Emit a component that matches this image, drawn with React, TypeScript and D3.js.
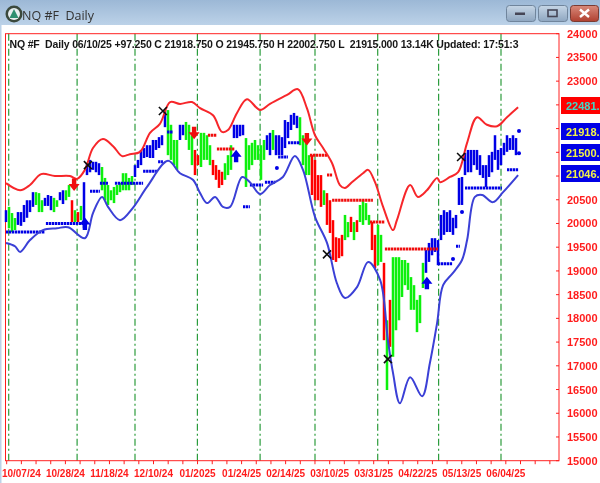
import React from "react";
import * as d3 from "d3";

const W = 600, H = 483;
const barHigh = [20280,20350,20220,20115,20240,20240,20390,20490,20490,20660,
20660,20640,20490,20540,20600,20580,20540,20490,20660,20700,
20700,20810,20490,20280,20240,20370,20870,21270,21340,21300,
21300,21270,21190,20960,20810,20700,20770,20810,20850,21060,
21060,20960,21000,21230,21340,21550,21590,21650,21650,21760,
21760,21820,21860,22390,22390,22080,21760,21760,22080,22080,
22140,22080,21860,21550,21440,21910,21910,21860,21650,21340,
21230,21130,21090,21270,21440,21650,22080,22080,22080,22080,
21800,21650,21700,21760,21650,21650,21760,21860,21910,21970,
21860,21860,21820,22180,22140,22290,22330,22270,22240,21860,
21760,21440,21440,21340,21020,21020,20700,20640,20490,20070,
19710,19690,19760,20180,20030,20140,20030,20070,20390,20490,
20430,20180,20030,19760,19970,19760,19170,17960,18390,19290,
19290,19290,19230,19230,19170,18870,18700,18390,18490,19170,
19440,19590,19690,19690,19650,20180,20280,20240,20280,20120,
20180,20960,20980,21490,21550,21550,21550,21550,21440,21230,
21230,21440,21510,21860,21550,21590,21700,21860,21800,21860,21800];
const barLow = [20030,19900,19820,19860,19970,19950,20030,20120,20240,20350,
20390,20240,20240,20370,20370,20280,20240,20350,20490,20410,
20490,20560,20030,20030,20030,20070,19900,21020,21080,21130,
21080,21020,20700,20490,20390,20490,20430,20600,20660,20700,
20700,20700,20810,20980,21170,21230,21380,21400,21380,21380,
21550,21590,21650,22030,21440,21340,21230,21130,21760,21860,
21760,21550,21230,21020,21230,21190,21340,21340,21230,21020,
20920,20750,20810,20920,21020,21130,21800,21800,21840,21860,
20770,21130,21230,21340,21340,20920,21340,21550,21440,21550,
21440,21440,21440,21590,21800,21970,22080,22010,21650,21230,
21020,21020,20600,20490,20490,20350,20390,19970,19800,19230,
19190,19270,19310,19650,19710,19820,19650,19820,20030,19970,
20070,19970,19440,19060,19120,19190,17540,16490,17400,17190,
17750,17960,18450,18700,18600,18180,18180,17710,17900,18640,
18960,19190,19330,19400,19120,19650,19760,19820,19820,19760,
19900,20390,20390,21020,21080,21080,21230,21130,21020,20960,
20770,20980,21080,21340,21130,21230,21440,21510,21550,21550,21440];
const barColorCodes =
  "bgggbbbbbb" + "gggbbbggbb" + "ggrgrgbbbb" + "bbgggggggg" + "gggbbbbbbb" +
  "bbbbggggbb" + "gggrrggggr" + "rrrgggbbbb" + "gggggggbbg" + "bbbbbbbbgg" +
  "ggrrrrgrrr" + "rrrggrgrgg" + "ggrrggrgrg" + "gggggggggg" + "bbbbbbbbbb" +
  "bbbbbbbbbb" + "bbbbbbbbbbb";

const upperIdx = [0,4.7,8,11.7,16.3,21.3,23.7,26.3,29,32.3,35.7,38.7,41.3,44.7,48,51.3,54.7,58,62,64.7,69,72,74,77,80.3,84.7,88,93.7,97.3,100.3,103,105.7,108.7,111.3,113,115.3,119,120.7,123,125.7,129,130.3,134.7,137.3,140.3,143.7,144.7,148,150.7,153.7,157,160.3,163.7,167,170.7];
const upperVal = [20850,20700,20810,21040,21000,21000,20940,21130,21590,21780,21630,21420,21460,21510,21910,22100,22560,22520,22560,22430,22280,21930,21970,22330,22620,22390,22520,22710,22830,22430,21860,21590,21270,20810,20750,20870,21060,21130,20870,20350,19860,20070,20810,20560,20700,20960,20870,20980,21080,21700,22240,22080,22050,22240,22450];
const lowerIdx = [0,3,4.7,8,12.3,17,20.7,26.3,29,32,34,38,42.3,47,54,58,62.3,64.7,67,69.7,72.3,74.7,78.7,81.3,84.7,88,92.3,96.3,99,103,107,110.3,113,117,120.7,124.7,127.3,129,131.3,134.7,138.7,141.3,143.7,145.7,149,152,153.7,156.3,158.7,162.3,165.7,170.7];
const lowerVal = [19590,19520,19400,19650,19860,19900,19920,19690,20220,20560,20350,20070,20330,20770,21320,21060,20920,20640,20430,20560,20350,20350,20980,20870,20620,20810,20980,21420,21130,20140,19590,18740,18430,18660,19190,18810,17540,16850,16210,16760,16360,17060,17900,18700,18960,19230,19650,20560,20600,20450,20660,21020];

const blueLevelStart = [0,13.3,28,31.3,36.3,45.7,50.7,53.7,79,81.3,86.3,90.3,90.7,94,144,149,150,152,153,167,171,171];
const blueLevelEnd = [13,25.7,31.3,34,45.7,50.3,52.3,55.7,81.3,85.7,89.7,90.3,94,98,148.7,149,151.3,152,165.3,170.7,171,171];
const blueLevelVal = [19820,20000,20680,20850,20850,21100,21300,21930,20350,20810,20870,21170,21400,21700,19150,19250,19520,20240,20750,21130,21480,21950];
const redLevelStart = [67.3,70.3,101.3,107,108.7,121.3,126.3];
const redLevelEnd = [70.3,76.3,107,108.7,122.3,126.3,144];
const redLevelVal = [21860,21570,21440,21020,20490,20030,19460];

const crossIdx = [27.3,52.3,107,127.3,151.7];
const crossVal = [21230,22370,19350,17140,21400];
const downArrowIdx = [22.7,62.7,100.3];
const downArrowVal = [20810,21900,21770];
const upArrowIdx = [26.3,76.7,140.3];
const upArrowVal = [20000,21430,18750];

const monthLineIdx = [0.9,23.7,43,63.8,84.7,103,123.9,144.2,165];
const yTicks = d3.range(15000, 24001, 500);
const yTicksCovered = [21000,21500,22000,22500];
const xTickLabels = ["10/07/24","10/28/24","11/18/24","12/10/24","01/2025","01/24/25","02/14/25","03/10/25","03/31/25","04/22/25","05/13/25","06/04/25"];
const xTickCount = 38;
const tagValues = ["22481.7","21918.7","21500.2","21046.4"];
const tagTops = [97,123,144,165];

const chartTitle = "NQ #F  Daily 06/10/25 +97.250 C 21918.750 O 21945.750 H 22002.750 L  21915.000 13.14K Updated: 17:51:3";
const windowTitle = "NQ #F  Daily";

const FONT = "'Liberation Sans', Arial, sans-serif";
const RED = "#ff1e1e", BLUE = "#0000e6", GREEN = "#0cf00c", BAND_BLUE = "#3a3fd6", BAND_RED = "#f7272b", VLINE = "#2c9c3c";
const colorOf: Record<string, string> = { b: BLUE, g: GREEN, r: "#ff0000" };

export default function App() {
  const left = 5.5, right = 559, top = 33.7, bottom = 460.7;
  const y = d3.scaleLinear().domain([15000, 24000]).range([bottom, top]);
  const x = d3.scaleLinear().domain([0, 170]).range([6, 516]);
  const tickX = d3.scaleLinear().domain([0, 1]).range([6.7, 21.38]);
  const line = d3.line<[number, number]>().x(d => x(d[0])).y(d => y(d[1])).curve(d3.curveCatmullRom.alpha(0.5));
  const upper = line(upperIdx.map((v, i) => [v, upperVal[i]] as [number, number])) as string;
  const lower = line(lowerIdx.map((v, i) => [v, lowerVal[i]] as [number, number])) as string;
  const bars = barHigh.map((h, i) => ({ i, h, l: barLow[i], c: colorOf[barColorCodes[i]] }));
  const arrow = "M-2.2,-6.5H2.2V-1H5.5L0,6L-5.5,-1H-2.2Z";

  const levels = (starts: number[], ends: number[], vals: number[], col: string) =>
    starts.map((s, i) =>
      s === ends[i] ? (
        <circle key={col + i} cx={x(s)} cy={y(vals[i])} r={2} fill={col} />
      ) : (
        <line key={col + i} x1={x(s)} x2={x(ends[i])} y1={y(vals[i])} y2={y(vals[i])} stroke={col} strokeWidth={3} strokeDasharray="2.4 0.6" />
      )
    );

  return (
    <svg width={W} height={H} viewBox={`0 0 ${W} ${H}`} style={{ position: "fixed", left: 0, top: 0, background: "#fff" }} fontFamily={FONT}>
      <defs>
        <linearGradient id="bar" x1="0" x2="0" y1="0" y2="1">
          <stop offset="0" stopColor="#9cb8d6" />
          <stop offset="1" stopColor="#bcd2e8" />
        </linearGradient>
        <linearGradient id="btn" x1="0" x2="0" y1="0" y2="1">
          <stop offset="0" stopColor="#c6d6e6" />
          <stop offset="1" stopColor="#8ea6c0" />
        </linearGradient>
        <linearGradient id="cls" x1="0" x2="0" y1="0" y2="1">
          <stop offset="0" stopColor="#d98a7a" />
          <stop offset="1" stopColor="#b04030" />
        </linearGradient>
        <filter id="soft" x="-2%" y="-2%" width="104%" height="104%">
          <feGaussianBlur stdDeviation="0.45" />
        </filter>
      </defs>
      <g filter="url(#soft)">
        <rect x={0} y={0} width={W} height={25} fill="url(#bar)" />
        <rect x={0} y={25} width={1.5} height={H - 25} fill="#bcd2e8" />
        <circle cx={14} cy={14} r={8.5} fill="#3b4a3c" />
        <circle cx={14} cy={14} r={6} fill="#e8eef0" />
        <path d="M14,9 L18.5,18 H9.5 Z" fill="#2f8f6f" />
        <text x={22} y={19.5} fontSize={12.5} fill="#333" fontFamily="'Open Sans', sans-serif" xmlSpace="preserve">{windowTitle}</text>
        <rect x={506.5} y={5.5} width={29} height={16} rx={3} fill="url(#btn)" stroke="#6f859c" />
        <rect x={515} y={12.5} width={10} height={2.5} fill="#445" />
        <rect x={538.5} y={5.5} width={29} height={16} rx={3} fill="url(#btn)" stroke="#6f859c" />
        <rect x={548} y={10} width={9} height={6.5} fill="none" stroke="#445" strokeWidth={1.6} />
        <rect x={570.5} y={5.5} width={28} height={16} rx={3} fill="url(#cls)" stroke="#7a3a30" />
        <path d="M580,9.5L589,17M589,9.5L580,17" stroke="#fff" strokeWidth={2.4} />

        {monthLineIdx.map((m, i) => (
          <line key={i} x1={x(m)} x2={x(m)} y1={top} y2={bottom} stroke={VLINE} strokeWidth={1.2} strokeDasharray="7 3 2 3" />
        ))}

        <rect x={left} y={top} width={right - left} height={bottom - top} fill="none" stroke={RED} strokeWidth={1} />

        {bars.map(b => (
          <rect key={b.i} x={x(b.i) - 1.25} width={2.5} y={y(b.h)} height={y(b.l) - y(b.h)} fill={b.c} />
        ))}

        {levels(blueLevelStart, blueLevelEnd, blueLevelVal, BLUE)}
        {levels(redLevelStart, redLevelEnd, redLevelVal, "#f01010")}

        <path d={upper} fill="none" stroke={BAND_RED} strokeWidth={2} />
        <path d={lower} fill="none" stroke={BAND_BLUE} strokeWidth={2} />

        {downArrowIdx.map((a, i) => (
          <path key={i} d={arrow} transform={`translate(${x(a)},${y(downArrowVal[i])})`} fill="#f01010" />
        ))}
        {upArrowIdx.map((a, i) => (
          <path key={i} d={arrow} transform={`translate(${x(a)},${y(upArrowVal[i])}) scale(1,-1)`} fill={BLUE} />
        ))}
        {crossIdx.map((a, i) => (
          <path key={i} d="M-4,-4L4,4M-4,4L4,-4" transform={`translate(${x(a)},${y(crossVal[i])})`} stroke="#111" strokeWidth={1.6} fill="none" />
        ))}

        <text x={9.5} y={48} fontSize={10.5} fontWeight="bold" fill="#151515" textLength={509} lengthAdjust="spacing" xmlSpace="preserve">{chartTitle}</text>

        {yTicks.map(t => (
          <g key={t}>
            <line x1={556} x2={right} y1={y(t)} y2={y(t)} stroke={RED} />
            {!yTicksCovered.includes(t) && <text x={567} y={y(t) + 4} fontSize={11} fontWeight="bold" fill={RED}>{t}</text>}
          </g>
        ))}

        {d3.range(xTickCount).map(k => (
          <line key={k} x1={tickX(k)} x2={tickX(k)} y1={bottom} y2={bottom + 3.5} stroke={RED} />
        ))}
        {xTickLabels.map((t, i) => (
          <text key={t} x={tickX(1 + i * 3)} y={477} fontSize={10} fontWeight="bold" fill={RED} textAnchor="middle">{t}</text>
        ))}

        {tagValues.map((t, i) => (
          <g key={t}>
            <rect x={561} y={tagTops[i]} width={39} height={17} fill={i === 0 ? "#ff0000" : "#0000e6"} />
            <text x={566} y={tagTops[i] + 12.5} fontSize={11} fontWeight="bold" fill={i === 0 ? "#3fd8c8" : "#f2f24a"}>{t}</text>
          </g>
        ))}
      </g>
    </svg>
  );
}
